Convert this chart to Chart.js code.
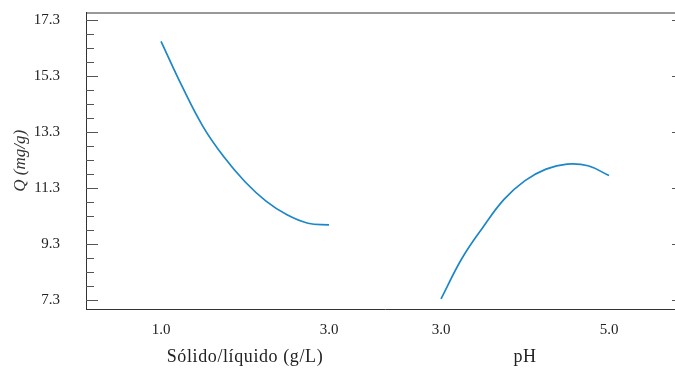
<!DOCTYPE html>
<html>
<head>
<meta charset="utf-8">
<script src="https://cdn.jsdelivr.net/npm/chart.js@4.4.0/dist/chart.umd.min.js"></script>
<style>
  html, body { margin: 0; padding: 0; overflow: hidden; background: #fff; }
  canvas { display: block; }
</style>
</head>
<body>
<canvas id="qChart" width="686" height="371"></canvas>
<script>
// Sólido/líquido panel
const solidX = [1.0, 1.25, 1.5, 1.75, 2.0, 2.25, 2.5, 2.75, 3.0];
const solidQ = [16.53, 14.93, 13.49, 12.40, 11.52, 10.83, 10.34, 10.04, 9.98];
// pH panel
const phX = [3.0, 3.25, 3.5, 3.75, 4.0, 4.25, 4.5, 4.75, 5.0];
const phQ = [7.34, 8.79, 9.90, 10.89, 11.56, 11.97, 12.15, 12.09, 11.74];

const yTicks = [7.3, 9.3, 11.3, 13.3, 15.3, 17.3];
const xTickValues = [1.0, 3.0, 3.0, 5.0];
const xTickLabels = ["1.0", "3.0", "3.0", "5.0"];
const xTitles = ["Sólido/líquido (g/L)", "pH"];

// pH panel sits to the right of the first one on the shared axis
const PH_SHIFT = 1.3333;
const FONT = "'Liberation Serif', 'DejaVu Serif', serif";
const LINE = "#1b87c9";

// major + minor tick values (minor every 0.5)
const yAllTicks = [];
yTicks.forEach((v, i) => {
    yAllTicks.push(v);
    if (i < yTicks.length - 1) {
        for (let k = 1; k < 4; k++) yAllTicks.push(+(v + k * 0.5).toFixed(1));
    }
});

const framePlugin = {
    id: "frame",
    afterDraw(chart) {
        const { ctx, chartArea: a, scales } = chart;
        ctx.save();
        ctx.strokeStyle = "#333";
        ctx.lineWidth = 1;
        ctx.beginPath();
        ctx.moveTo(a.left, a.top + 0.5);
        ctx.lineTo(a.right, a.top + 0.5);
        ctx.moveTo(a.right - 0.5, a.top);
        ctx.lineTo(a.right - 0.5, a.bottom);
        ctx.stroke();

        // inward tick marks
        ctx.strokeStyle = "#555";
        ctx.beginPath();
        yAllTicks.forEach(v => {
            const y = Math.round(scales.y.getPixelForValue(v)) + 0.5;
            const major = yTicks.includes(v);
            const len = major ? 12 : 8;
            ctx.moveTo(a.left, y);
            ctx.lineTo(a.left + len, y);
            if (major) {
                ctx.moveTo(a.right, y);
                ctx.lineTo(a.right - 12, y);
            }
        });
        ctx.stroke();

        // panel titles under the x axis
        ctx.fillStyle = "#222";
        ctx.font = "18px " + FONT;
        ctx.letterSpacing = "0.6px";
        ctx.textAlign = "center";
        ctx.textBaseline = "middle";
        const mid1 = scales.x.getPixelForValue((solidX[0] + solidX[solidX.length - 1]) / 2);
        const mid2 = scales.x.getPixelForValue((phX[0] + phX[phX.length - 1]) / 2 + PH_SHIFT);
        ctx.fillText(xTitles[0], mid1, 357);
        ctx.fillText(xTitles[1], mid2, 357);
        ctx.restore();
    }
};

new Chart(document.getElementById("qChart"), {
    type: "line",
    data: {
        datasets: [
            {
                label: "Sólido/líquido",
                data: solidX.map((x, i) => ({ x: x, y: solidQ[i] })),
                borderColor: LINE,
                borderWidth: 1.7,
                pointRadius: 0,
                fill: false,
                tension: 0.4
            },
            {
                label: "pH",
                data: phX.map((x, i) => ({ x: x + PH_SHIFT, y: phQ[i] })),
                borderColor: LINE,
                borderWidth: 1.7,
                pointRadius: 0,
                fill: false,
                tension: 0.4
            }
        ]
    },
    options: {
        responsive: false,
        animation: false,
        devicePixelRatio: 1,
        layout: { padding: { top: 12.5, right: 2, left: 0, bottom: 0 } },
        plugins: {
            legend: { display: false },
            tooltip: { enabled: false }
        },
        scales: {
            x: {
                type: "linear",
                min: 0.107,
                max: 7.226,
                grid: { display: false },
                border: { display: true, color: "#333", width: 1 },
                afterBuildTicks: s => {
                    s.ticks = xTickValues.map((v, i) => ({ value: i < 2 ? v : v + PH_SHIFT }));
                },
                ticks: {
                    autoSkip: false,
                    maxRotation: 0,
                    padding: 4,
                    color: "#222",
                    font: { family: FONT, size: 15 },
                    callback: (v, i) => xTickLabels[i]
                },
                afterFit: s => {
                    s.height = 62;
                    s.paddingLeft = 0;
                    s.paddingRight = 0;
                }
            },
            y: {
                min: 6.98,
                max: 17.56,
                grid: { display: false },
                border: { display: true, color: "#333", width: 1 },
                afterBuildTicks: s => {
                    s.ticks = yAllTicks.map(v => ({ value: v }));
                },
                ticks: {
                    autoSkip: false,
                    padding: 18,
                    color: "#222",
                    font: { family: FONT, size: 15 },
                    callback: v => yTicks.includes(v) ? v.toFixed(1) : ""
                },
                title: {
                    display: true,
                    text: "Q (mg/g)",
                    color: "#333",
                    font: { family: FONT, size: 17, style: "italic" },
                    padding: { top: 10, bottom: 0 }
                },
                afterFit: s => {
                    s.width = 86;
                    s.paddingTop = 0;
                    s.paddingBottom = 0;
                }
            }
        }
    },
    plugins: [framePlugin]
});
</script>
</body>
</html>
